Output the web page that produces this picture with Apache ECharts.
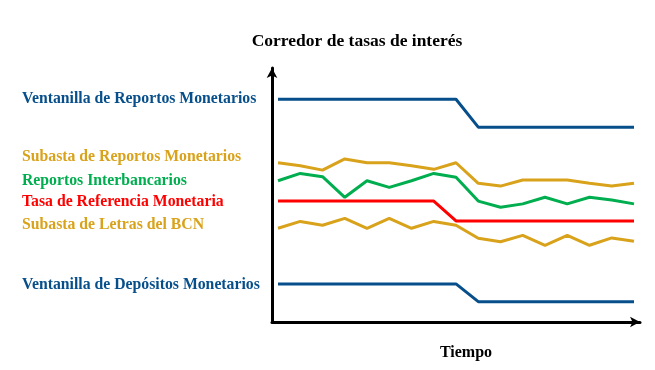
<!DOCTYPE html>
<html><head><meta charset="utf-8">
<script src="https://cdn.jsdelivr.net/npm/echarts@6/dist/echarts.min.js"></script>
<style>html,body{margin:0;padding:0;background:#fff}#c{width:655px;height:370px}</style>
</head><body><div id="c"></div>
<script>
const periods = [0,1,2,3,4,5,6,7,8,9,10,11,12,13,14,15,16];
const ventanillaReportos = [8.77,8.77,8.77,8.77,8.77,8.77,8.77,8.77,8.77,7.67,7.67,7.67,7.67,7.67,7.67,7.67,7.67];
const subastaReportos = [6.27,6.15,5.98,6.42,6.27,6.27,6.15,6.01,6.27,5.46,5.35,5.59,5.59,5.59,5.46,5.35,5.46];
const reportosInterbancarios = [5.56,5.85,5.72,4.91,5.56,5.30,5.56,5.85,5.70,4.76,4.52,4.65,4.91,4.65,4.91,4.80,4.65];
const tasaReferencia = [4.76,4.76,4.76,4.76,4.76,4.76,4.76,4.76,3.98,3.98,3.98,3.98,3.98,3.98,3.98,3.98,3.98];
const subastaLetras = [3.69,3.96,3.81,4.08,3.69,4.08,3.69,3.96,3.81,3.30,3.16,3.41,3.02,3.41,3.02,3.31,3.18];
const ventanillaDepositos = [1.50,1.50,1.50,1.50,1.50,1.50,1.50,1.50,1.50,0.80,0.80,0.80,0.80,0.80,0.80,0.80,0.80];

const names = ['Ventanilla de Reportos Monetarios','Subasta de Reportos Monetarios','Reportos Interbancarios','Tasa de Referencia Monetaria','Subasta de Letras del BCN','Ventanilla de Depósitos Monetarios'];
const values = [ventanillaReportos, subastaReportos, reportosInterbancarios, tasaReferencia, subastaLetras, ventanillaDepositos];
const BLUE='#074F8B', GOLD='#D9A21B', GREEN='#00AE4F', RED='#FF0000';
const colors = [BLUE, GOLD, GREEN, RED, GOLD, BLUE];
const labelY = [98, 156, 180, 201, 224, 284];
const FONT = '"Liberation Serif", "DejaVu Serif", serif';

const chart = echarts.init(document.getElementById('c'));
chart.setOption({
  animation:false,
  grid:{left:272, right:15, top:68, bottom:48},
  xAxis:{type:'value', min:-0.27, max:16.27,
    axisLine:{show:true, onZero:false, symbol:['none','arrow'], symbolSize:[8,10], lineStyle:{color:'#000', width:3}},
    axisTick:{show:false}, axisLabel:{show:false}, splitLine:{show:false}},
  yAxis:{type:'value', min:0, max:10,
    axisLine:{show:true, onZero:false, symbol:['none','arrow'], symbolSize:[8,10], lineStyle:{color:'#000', width:3}},
    axisTick:{show:false}, axisLabel:{show:false}, splitLine:{show:false}},
  series: values.map((v,k)=>({
    type:'line', name:names[k], data: periods.map((p,i)=>[p, v[i]]),
    showSymbol:false, lineStyle:{color:colors[k], width:3}, itemStyle:{color:colors[k]}
  })),
  graphic: names.map((n,k)=>({type:'text', x:22, y:labelY[k]+1,
    style:{text:n, fill:colors[k], font:'bold 15.75px '+FONT, verticalAlign:'middle', align:'left'}}))
  .concat([
    {type:'text', x:357, y:41, style:{text:'Corredor de tasas de interés', fill:'#000', font:'bold 17.5px '+FONT, align:'center', verticalAlign:'middle'}},
    {type:'text', x:466, y:353, style:{text:'Tiempo', fill:'#000', font:'bold 16px '+FONT, align:'center', verticalAlign:'middle'}}
  ])
});
</script></body></html>
